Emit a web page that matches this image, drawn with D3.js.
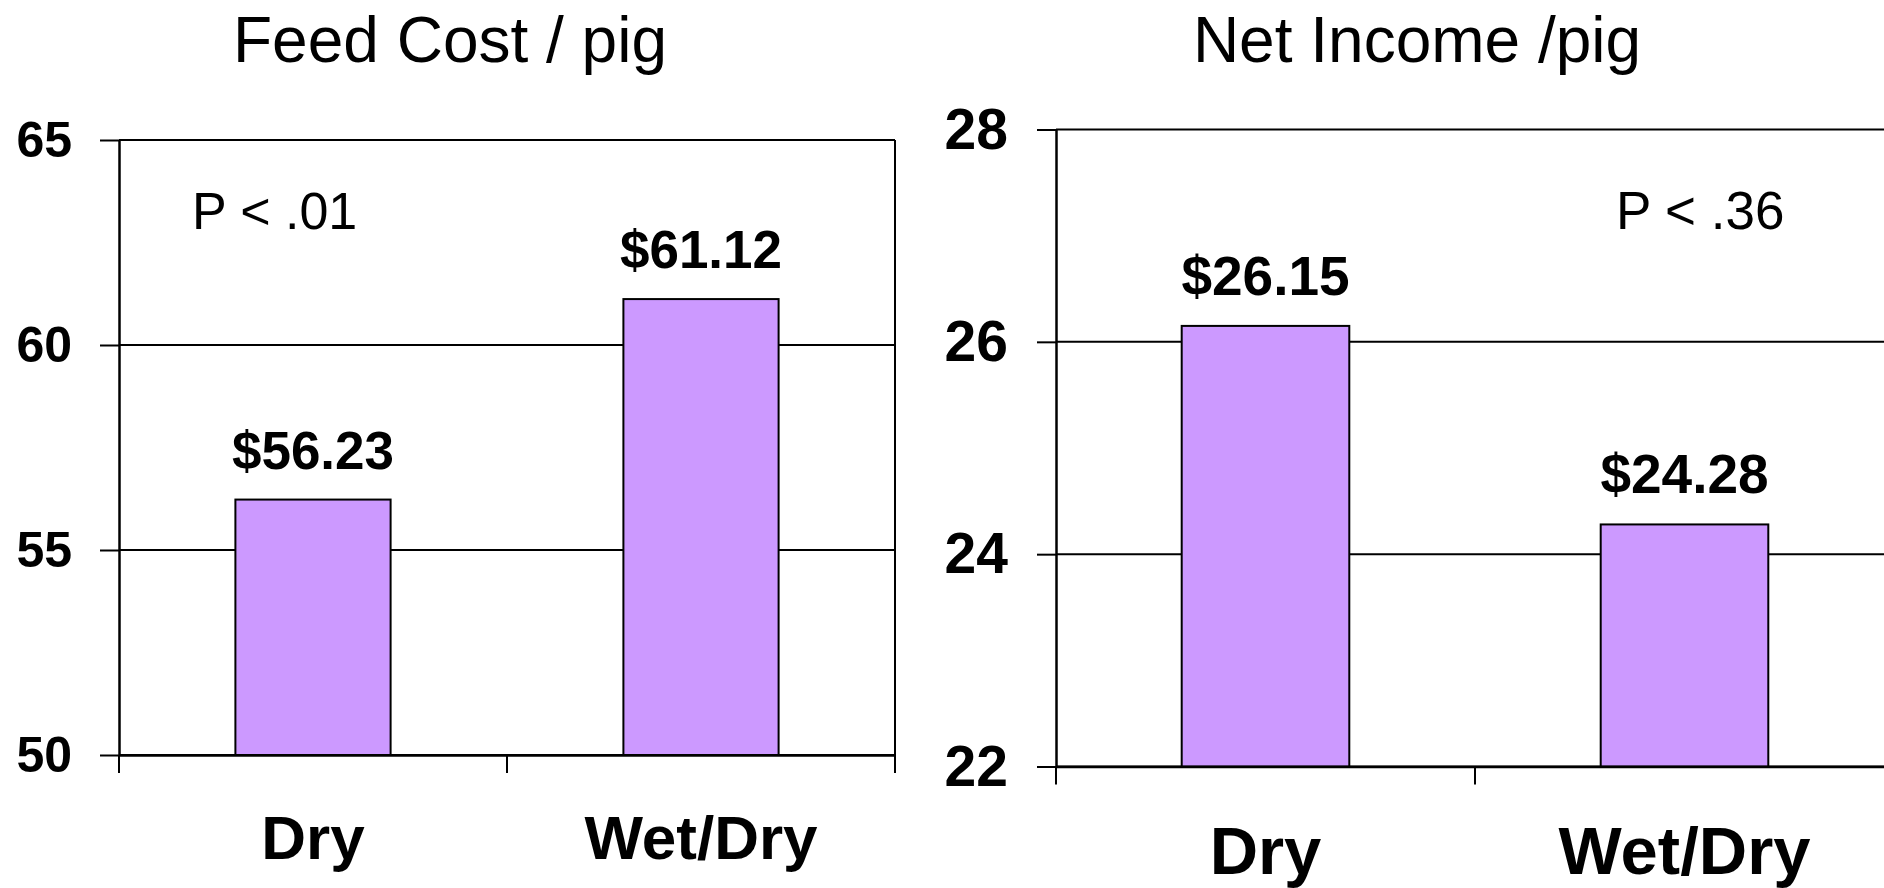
<!DOCTYPE html>
<html>
<head>
<meta charset="utf-8">
<script src="https://cdn.jsdelivr.net/npm/d3@7"></script>
<style>
  html, body { margin: 0; padding: 0; background: #fff; }
  svg { display: block; font-family: Arial, "Liberation Sans", Helvetica, sans-serif; }
</style>
</head>
<body>
<svg id="chart" width="1884" height="888"></svg>
<script>
// Per-pig economics for dry vs. wet/dry feeders
const categories = ["Dry", "Wet/Dry"];
const feedCostValues = [56.23, 61.12];
const netIncomeValues = [26.15, 24.28];
const feedCostTicks = [50, 55, 60, 65];
const netIncomeTicks = [22, 24, 26, 28];
const feedCostTitle = "Feed Cost / pig";
const netIncomeTitle = "Net Income /pig";
const feedCostNote = "P < .01";
const netIncomeNote = "P < .36";

const barFill = "#cc99ff";
const svg = d3.select("#chart");

function drawPanel(cfg) {
  const g = svg.append("g");
  const y = d3.scaleLinear()
    .domain([cfg.ticks[0], cfg.ticks[cfg.ticks.length - 1]])
    .range([cfg.bottom, cfg.top]);
  const x = d3.scaleBand()
    .domain(categories)
    .range([cfg.left, cfg.right])
    .padding(0);
  const barW = x.bandwidth() * 0.4;

  // horizontal gridlines (top one doubles as the frame)
  g.append("g").selectAll("line")
    .data(cfg.ticks)
    .join("line")
    .attr("x1", cfg.left).attr("x2", cfg.right)
    .attr("y1", d => y(d)).attr("y2", d => y(d))
    .attr("stroke", "#000").attr("stroke-width", 2);

  // right frame edge
  g.append("line")
    .attr("x1", cfg.right).attr("x2", cfg.right)
    .attr("y1", cfg.top).attr("y2", cfg.bottom)
    .attr("stroke", "#000").attr("stroke-width", 2);

  // bars
  g.append("g").selectAll("rect")
    .data(cfg.values)
    .join("rect")
    .attr("x", (d, i) => x(categories[i]) + (x.bandwidth() - barW) / 2)
    .attr("y", d => y(d))
    .attr("width", barW)
    .attr("height", d => y(cfg.ticks[0]) - y(d))
    .attr("fill", barFill)
    .attr("stroke", "#000")
    .attr("stroke-width", 2);

  // value labels
  g.append("g").selectAll("text")
    .data(cfg.values)
    .join("text")
    .attr("x", (d, i) => x(categories[i]) + x.bandwidth() / 2)
    .attr("y", d => y(d) - 31)
    .attr("text-anchor", "middle")
    .attr("font-weight", "bold")
    .attr("font-size", cfg.valueFont)
    .text(d => "$" + d.toFixed(2));

  // y axis
  const yAxis = d3.axisLeft(y)
    .tickValues(cfg.ticks)
    .tickFormat(d3.format("d"))
    .tickSize(19)
    .tickSizeOuter(0)
    .tickPadding(cfg.tickPad);
  const ya = g.append("g")
    .attr("transform", `translate(${cfg.left},0)`)
    .call(yAxis);
  ya.select(".domain").attr("stroke", "#000").attr("stroke-width", 2.5);
  ya.selectAll(".tick line").attr("stroke", "#000").attr("stroke-width", 2);
  ya.selectAll(".tick text")
    .attr("fill", "#000")
    .attr("font-family", "Arial, 'Liberation Sans', sans-serif")
    .attr("font-weight", "bold")
    .attr("font-size", cfg.tickFont)
    .attr("dy", cfg.tickDy);

  // x axis: baseline with ticks at category boundaries
  const xa = g.append("g")
    .attr("transform", `translate(0,${cfg.bottom})`)
    .call(d3.axisBottom(x).tickSize(0).tickPadding(cfg.catPad));
  xa.select(".domain").attr("stroke", "#000").attr("stroke-width", 2.5);
  xa.selectAll(".tick text")
    .attr("fill", "#000")
    .attr("font-family", "Arial, 'Liberation Sans', sans-serif")
    .attr("font-weight", "bold")
    .attr("font-size", cfg.catFont)
    .attr("dy", 0);
  const bounds = categories.map(c => x(c)).concat([x.range()[1]]);
  xa.append("g").selectAll("line")
    .data(bounds)
    .join("line")
    .attr("x1", d => d).attr("x2", d => d)
    .attr("y1", 0).attr("y2", 18)
    .attr("stroke", "#000").attr("stroke-width", 2);

  // title and significance note
  svg.append("text")
    .attr("x", cfg.titleX).attr("y", 62)
    .attr("text-anchor", "middle")
    .attr("font-size", 64)
    .text(cfg.title);
  svg.append("text")
    .attr("x", cfg.noteX).attr("y", 229)
    .attr("font-size", cfg.noteFont)
    .text(cfg.note);
}

drawPanel({
  values: feedCostValues, ticks: feedCostTicks,
  left: 119, right: 895, top: 140, bottom: 755,
  tickFont: 50, tickPad: 28, tickDy: "0.32em",
  valueFont: 53, catFont: 62, catPad: 104,
  title: feedCostTitle, titleX: 450,
  note: feedCostNote, noteX: 192, noteFont: 52
});

drawPanel({
  values: netIncomeValues, ticks: netIncomeTicks,
  left: 1056, right: 1894, top: 129.5, bottom: 766.5,
  tickFont: 57, tickPad: 29, tickDy: "0.33em",
  valueFont: 55, catFont: 67, catPad: 107,
  title: netIncomeTitle, titleX: 1417,
  note: netIncomeNote, noteX: 1616, noteFont: 53
});
</script>
</body>
</html>
